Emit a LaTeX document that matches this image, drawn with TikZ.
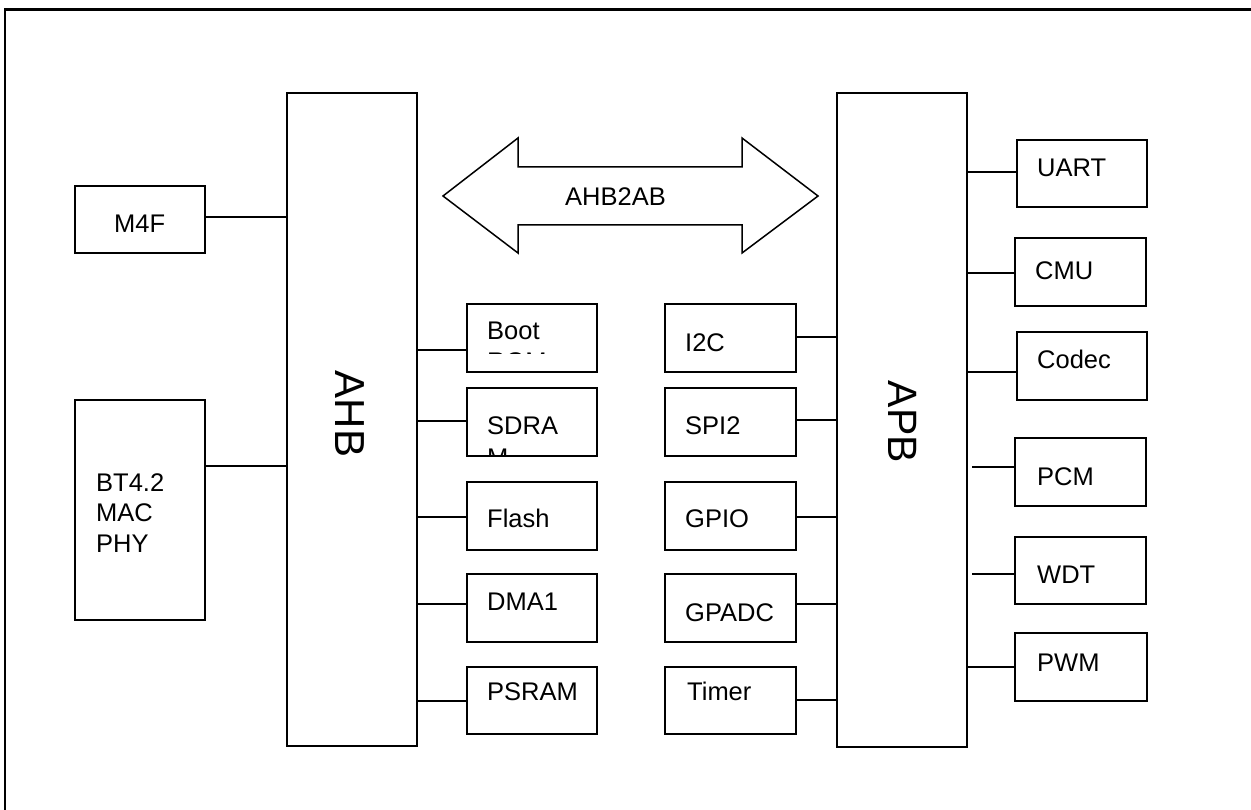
\documentclass[tikz,border=0pt]{standalone}
\usepackage{fontspec}
\setmainfont{Liberation Sans}
\begin{document}
\begin{tikzpicture}[x=1pt,y=-1pt,
  box/.style={draw, line width=1.5pt, rectangle, inner sep=0pt, outer sep=0pt},
  sbox/.style={box, minimum width=130pt, minimum height=68pt},
  conn/.style={line width=1.1pt},
  lbl/.style={font=\fontsize{25.5}{30}\selectfont, inner sep=0pt, anchor=base west},
  bus/.style={font=\fontsize{42}{48}\selectfont, inner sep=0pt, rotate=-90}]
\useasboundingbox (0,0) rectangle (1251,810);
% frame (only top and left visible)
\draw[line width=2.2pt] (5,830) -- (5,9.5) -- (1270,9.5);

% buses
\node[box, minimum width=130pt, minimum height=653pt] (ahb) at (352,419.5) {};
\node[box, minimum width=130pt, minimum height=654pt] (apb) at (902,420) {};
\node[bus] (ahbt) at (350,414) {AHB};
\node[bus, font=\fontsize{41}{48}\selectfont] (apbt) at (903,422) {APB};

% bridge arrow
\draw[line width=1.5pt] (443,196) -- (518,138) -- (518,167) -- (742,167) -- (742,138)
  -- (818,196) -- (742,253) -- (742,225) -- (518,225) -- (518,253) -- cycle;
\node[lbl] (bridge) at (565,206) {AHB2AB};

% left blocks
\node[box, minimum width=130pt, minimum height=67pt] (m4f) at (140,219.5) {};
\node[lbl] (m4ft) at (114,233) {M4F};
\node[box, minimum width=130pt, minimum height=220pt] (bt) at (140,510) {};
\node[lbl] (bt1) at (96,491) {BT4.2};
\node[lbl] (bt2) at (96,521) {MAC};
\node[lbl] (bt3) at (96,552) {PHY};
\draw[conn] (m4f.east |- 0,217) -- (ahb.west |- 0,217);
\draw[conn] (bt.east |- 0,466) -- (ahb.west |- 0,466);

% AHB peripherals
\node[sbox] (boot) at (532,338) {};
\node[sbox] (sdram) at (532,422) {};
\node[sbox] (flash) at (532,516) {};
\node[sbox] (dma) at (532,608) {};
\node[sbox, minimum height=67pt] (psram) at (532,700.5) {};
\begin{scope}
  \clip (468,305) rectangle (596,353.5);
  \node[lbl] (boott) at (487,340) {Boot};
  \node[lbl] (boott2) at (487,370.3) {ROM};
\end{scope}
\begin{scope}
  \clip (468,389) rectangle (596,455);
  \node[lbl] (sdramt) at (487,434) {SDRA};
  \node[lbl] (sdramt2) at (487,466) {M};
\end{scope}
\node[lbl] (flasht) at (487,527) {Flash};
\node[lbl] (dmat) at (487,610) {DMA1};
\node[lbl] (psramt) at (487,700) {PSRAM};
\draw[conn] (ahb.east |- 0,350) -- (boot.west |- 0,350);
\draw[conn] (ahb.east |- 0,421) -- (sdram.west |- 0,421);
\draw[conn] (ahb.east |- 0,517) -- (flash.west |- 0,517);
\draw[conn] (ahb.east |- 0,604) -- (dma.west |- 0,604);
\draw[conn] (ahb.east |- 0,701) -- (psram.west |- 0,701);

% APB peripherals (middle)
\node[sbox, minimum width=131pt] (i2c) at (730.5,338) {};
\node[sbox, minimum width=131pt] (spi) at (730.5,422) {};
\node[sbox, minimum width=131pt] (gpio) at (730.5,516) {};
\node[sbox, minimum width=131pt] (gpadc) at (730.5,608) {};
\node[sbox, minimum width=131pt, minimum height=67pt] (timer) at (730.5,700.5) {};
\node[lbl] (i2ct) at (685,352) {I2C};
\node[lbl] (spit) at (685,434) {SPI2};
\node[lbl] (gpiot) at (685,527) {GPIO};
\node[lbl] (gpadct) at (685,621) {GPADC};
\node[lbl] (timert) at (687,700) {Timer};
\draw[conn] (i2c.east |- 0,337) -- (apb.west |- 0,337);
\draw[conn] (spi.east |- 0,420) -- (apb.west |- 0,420);
\draw[conn] (gpio.east |- 0,517) -- (apb.west |- 0,517);
\draw[conn] (gpadc.east |- 0,604) -- (apb.west |- 0,604);
\draw[conn] (timer.east |- 0,700) -- (apb.west |- 0,700);

% APB peripherals (right)
\node[box, minimum width=130pt, minimum height=67pt] (uart) at (1082,173.5) {};
\node[box, minimum width=131pt, minimum height=68pt] (cmu) at (1080.5,272) {};
\node[box, minimum width=130pt, minimum height=68pt] (codec) at (1082,366) {};
\node[box, minimum width=131pt, minimum height=68pt] (pcm) at (1080.5,472) {};
\node[box, minimum width=131pt, minimum height=67pt] (wdt) at (1080.5,570.5) {};
\node[box, minimum width=132pt, minimum height=68pt] (pwm) at (1081,667) {};
\node[lbl] (uartt) at (1037,177) {UART};
\node[lbl] (cmut) at (1035,280) {CMU};
\node[lbl] (codect) at (1037,369) {Codec};
\node[lbl] (pcmt) at (1037,485) {PCM};
\node[lbl] (wdtt) at (1037,583) {WDT};
\node[lbl] (pwmt) at (1037,671) {PWM};
\coordinate (pcmend) at (972,467);
\coordinate (wdtend) at (972,574);
\draw[conn] (apb.east |- 0,172) -- (uart.west |- 0,172);
\draw[conn] (apb.east |- 0,273) -- (cmu.west |- 0,273);
\draw[conn] (apb.east |- 0,372) -- (codec.west |- 0,372);
\draw[conn] (pcmend) -- (pcm.west |- pcmend);
\draw[conn] (wdtend) -- (wdt.west |- wdtend);
\draw[conn] (apb.east |- 0,667) -- (pwm.west |- 0,667);
\end{tikzpicture}
\end{document}
